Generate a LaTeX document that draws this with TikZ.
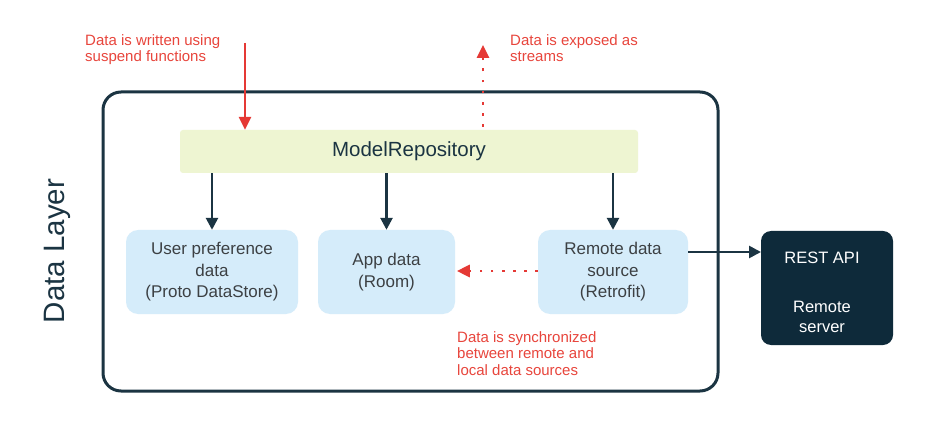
\documentclass[tikz,border=0pt]{standalone}
\usepackage{fontspec}
\setmainfont{Liberation Sans}
\usetikzlibrary{arrows.meta}
\definecolor{navy}{HTML}{1B3442}
\definecolor{darkbox}{HTML}{0E2A3A}
\definecolor{repo}{HTML}{EEF5D2}
\definecolor{lblue}{HTML}{D5ECFA}
\definecolor{redc}{HTML}{E53935}
\definecolor{redt}{HTML}{E8453C}
\definecolor{txt}{HTML}{3C4043}
\begin{document}
\begin{tikzpicture}[x=1pt,y=-1pt,
  store/.style={draw=none,fill=lblue,rounded corners=12pt,minimum height=84pt,align=center,text=txt,font=\fontsize{17}{21.5}\selectfont},
  darr/.style={-{Triangle[length=12pt,width=12pt]},line width=2.6pt,draw=navy},
  redarr/.style={-{Triangle[length=13pt,width=12pt]},line width=2.5pt,draw=redc},
  dotarr/.style={-{Triangle[length=13pt,width=12pt]},line width=2.8pt,draw=redc,dash pattern=on 2.8pt off 8.3pt},
  note/.style={text=redt,align=left,font=\fontsize{15}{16.5}\selectfont,inner sep=0pt,anchor=north west}]
\useasboundingbox (0,0) rectangle (945,422);
\fill[white] (0,0) rectangle (945,422);
% outer box
\node[draw=navy,line width=3pt,rounded corners=18pt,minimum width=615pt,minimum height=299pt,inner sep=0pt] (layer) at (410.5,241.5) {};
\node[rotate=90,text=navy,font=\fontsize{29.5}{34}\selectfont] (lbl) at (57,251) {Data Layer};
% repository
\node[fill=repo,minimum width=458pt,minimum height=43pt,inner sep=0pt,rounded corners=3pt,text=navy,font=\fontsize{20.5}{24}\selectfont] (repo) at (409,151.5) {ModelRepository};
% stores
\node[store,minimum width=172pt] (pref) at (212,272) {User preference\\data\\(Proto DataStore)};
\node[store,minimum width=137pt] (app) at (386.5,272) {App data\\(Room)};
\node[store,minimum width=150pt] (remote) at (613,272) {Remote data\\source\\(Retrofit)};
% REST
\node[fill=darkbox,rounded corners=10pt,minimum width=132pt,minimum height=114pt,inner sep=0pt] (rest) at (827,288) {};
\node[text=white,font=\fontsize{16.5}{20}\selectfont] (restt) at (822,258) {REST API};
\node[text=white,align=center,font=\fontsize{16.5}{20}\selectfont] (srv) at (822,317) {Remote\\server};
% arrows down
\draw[darr] (repo.south -| pref.north) -- (pref.north);
\draw[darr] (repo.south -| app.north) -- (app.north);
\draw[darr] (repo.south -| remote.north) -- (remote.north);
\coordinate (rr) at (688,252);
\coordinate (rl) at (761,252);
\draw[darr] (rr) -- (rl);
% red arrows
\coordinate (wtop) at (245,43);
\draw[redarr] (wtop) -- (wtop |- repo.north);
\coordinate (etop) at (483,45);
\draw[dotarr] (repo.north -| etop) ++(0,-3) -- (etop);
\draw[dotarr] (remote.west) ++(0,-1) -- ++(-81,0) coordinate (sy);
% notes
\node[note] (n1) at (85,34) {Data is written using\\suspend functions};
\node[note] (n2) at (510,34) {Data is exposed as\\streams};
\node[note] (n3) at (457,331) {Data is synchronized\\between remote and\\local data sources};
\end{tikzpicture}
\end{document}
